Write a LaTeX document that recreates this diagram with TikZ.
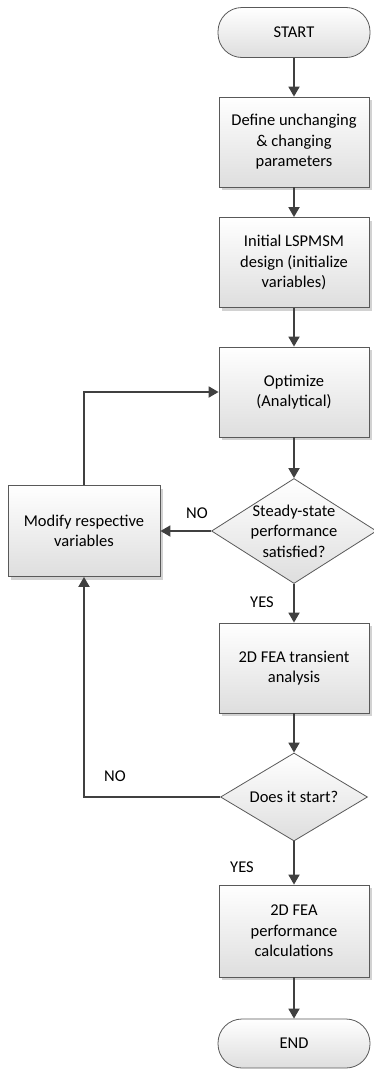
\documentclass[tikz,border=0pt]{standalone}
\usepackage{fontspec}
\setmainfont{Carlito}
\usetikzlibrary{shapes.geometric,arrows.meta,shadows}
\begin{document}
\begin{tikzpicture}[x=1pt,y=-1pt,
  font=\fontsize{16.5}{20.5}\selectfont,
  base/.style={draw=black!65, line width=0.8pt, top color=white, bottom color=black!13, align=center, inner sep=0pt},
  procbox/.style={base, rectangle, minimum width=150pt, minimum height=90pt,
     drop shadow={shadow xshift=3pt, shadow yshift=-3pt, fill=black!35}},
  terminal/.style={base, rectangle, rounded corners=24pt, minimum width=152pt, minimum height=50pt},
  decision/.style={base, diamond, inner sep=0pt},
  txt/.style={align=center, inner sep=0pt},
  flow/.style={draw=black!75, line width=1.8pt, -{Triangle[length=10pt,width=11pt]}},
  lbl/.style={inner sep=0pt}
]
\useasboundingbox (0,0) rectangle (373,1079);

\node[terminal] (start) at (294,32.5) {START};
\node[procbox] (b1) at (294,142) {Define unchanging\\\& changing\\parameters};
\node[procbox] (b2) at (294,262.5) {Initial LSPMSM\\design (initialize\\variables)};
\node[procbox] (b3) at (294,392) {Optimize\\(Analytical)};
\node[decision, minimum width=165pt, minimum height=105pt,
      label={[txt]center:{Steady-state\\performance\\satisfied?}}] (d1) at (294,531) {};
\node[procbox, minimum width=152pt, minimum height=91pt] (mod) at (84,531) {Modify respective\\variables};
\node[procbox] (b4) at (294,668) {2D FEA transient\\analysis};
\node[decision, minimum width=147pt, minimum height=88pt,
      label={[txt]center:{Does it start?}}] (d2) at (294,797) {};
\node[procbox, minimum height=92pt] (b5) at (294,931) {2D FEA\\performance\\calculations};
\node[terminal, minimum height=49pt] (end) at (294,1043.5) {END};

\draw[flow] (start) -- (b1);
\draw[flow] (b1) -- (b2);
\draw[flow] (b2) -- (b3);
\draw[flow] (b3) -- (d1);
\draw[flow] (d1) -- (b4);
\draw[flow] (b4) -- (d2);
\draw[flow] (d2) -- (b5);
\draw[flow] (b5) -- (end);
\draw[flow] (d1.west) -- (mod.east);
\draw[flow] (mod.north) |- (b3.west);
\draw[flow] (d2.west) -| (mod.south);

\node[lbl] (no1) at (197,513) {NO};
\node[lbl] (yes1) at (262,602) {YES};
\node[lbl] (no2) at (115,776) {NO};
\node[lbl] (yes2) at (242,867) {YES};
\end{tikzpicture}
\end{document}
